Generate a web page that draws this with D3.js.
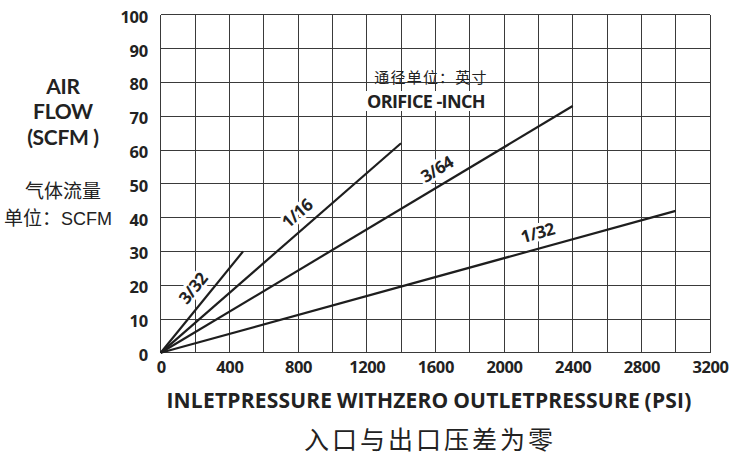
<!DOCTYPE html>
<html>
<head>
<meta charset="utf-8">
<script src="https://cdn.jsdelivr.net/npm/d3@7"></script>
<style>
  html, body { margin: 0; padding: 0; background: #fff; }
  svg { display: block; }
  text { font-family: "Open Sans", "Noto Sans", sans-serif; fill: #222; }
  .cjk { font-family: "Noto Sans CJK SC", sans-serif; }
</style>
</head>
<body>
<svg id="chart" width="730" height="455"></svg>
<script>
// Air flow (SCFM) vs inlet pressure (PSI) for each orifice size
const orifices = ["3/32", "1/16", "3/64", "1/32"];
const endPressure = [480, 1400, 2400, 3000];   // PSI at end of each line
const endFlow = [30, 62, 73, 42];              // SCFM at end of each line
const labelPos = [0.54, 0.61, 0.69, 0.74];     // fraction along line where label sits

const xTicks = [0, 400, 800, 1200, 1600, 2000, 2400, 2800, 3200];
const yTicks = [0, 10, 20, 30, 40, 50, 60, 70, 80, 90, 100];
const xGrid = d3.range(0, 3201, 200);

const svg = d3.select("#chart");
const x = d3.scaleLinear().domain([0, 3200]).range([160.7, 710]);
const y = d3.scaleLinear().domain([0, 100]).range([352.8, 14.8]);

// grid
const grid = svg.append("g").attr("stroke", "#3a3a3a").attr("stroke-width", 1).attr("shape-rendering", "crispEdges");
grid.selectAll(".vx").data(xGrid).join("line")
  .attr("x1", d => x(d)).attr("x2", d => x(d))
  .attr("y1", y(0)).attr("y2", y(100));
grid.selectAll(".hy").data(yTicks).join("line")
  .attr("x1", x(0)).attr("x2", x(3200))
  .attr("y1", d => y(d)).attr("y2", d => y(d));

// axes (labels only)
const yAxis = svg.append("g").attr("transform", `translate(${x(0) - 13},0)`)
  .call(d3.axisLeft(y).tickValues(yTicks).tickSize(0).tickPadding(0));
yAxis.select(".domain").remove();
yAxis.selectAll("text").attr("font-size", 16.5).attr("font-weight", 700)
  .attr("letter-spacing", -0.4).attr("dy", "0.45em")
  .style("font-family", "'Open Sans', sans-serif").attr("fill", "#222");

const xAxis = svg.append("g").attr("transform", `translate(0,${y(0) + 8})`)
  .call(d3.axisBottom(x).tickValues(xTicks).tickSize(0).tickPadding(0).tickFormat(d3.format("d")));
xAxis.select(".domain").remove();
xAxis.selectAll("text").attr("font-size", 16.5).attr("font-weight", 700)
  .attr("letter-spacing", -0.4).attr("dy", "0.75em")
  .style("font-family", "'Open Sans', sans-serif").attr("fill", "#222");

// orifice lines
const series = orifices.map((name, i) => ({
  name, pts: [[0, 0], [endPressure[i], endFlow[i]]], t: labelPos[i]
}));
const line = d3.line().x(d => x(d[0])).y(d => y(d[1]));
svg.append("g").selectAll("path").data(series).join("path")
  .attr("d", d => line(d.pts))
  .attr("fill", "none").attr("stroke", "#1e1e1e").attr("stroke-width", 2.2);

// line labels, rotated along each line and set off above it
svg.append("g").selectAll("text").data(series).join("text")
  .each(function (d) {
    const x0 = x(d.pts[0][0]), y0 = y(d.pts[0][1]);
    const x1 = x(d.pts[1][0]), y1 = y(d.pts[1][1]);
    const len = Math.hypot(x1 - x0, y1 - y0);
    const ux = (x1 - x0) / len, uy = (y1 - y0) / len;
    const off = 16;
    const cx = x0 + ux * len * d.t + uy * off;
    const cy = y0 + uy * len * d.t - ux * off;
    const ang = Math.atan2(y1 - y0, x1 - x0) * 180 / Math.PI;
    d3.select(this)
      .attr("transform", `translate(${cx},${cy}) rotate(${ang})`)
      .attr("text-anchor", "middle").attr("dominant-baseline", "central")
      .attr("font-size", 17).attr("font-weight", 700).attr("letter-spacing", -0.5)
      .attr("stroke", "#fff").attr("stroke-width", 6).attr("paint-order", "stroke")
      .attr("stroke-linejoin", "round")
      .text(d.name);
  });

// orifice legend heading
svg.append("text").attr("class", "cjk").attr("x", 431).attr("y", 83)
  .attr("text-anchor", "middle").attr("font-size", 15).attr("letter-spacing", 1.2)
  .text("通径单位：英寸");
svg.append("rect").attr("x", 360).attr("y", 91).attr("width", 134).attr("height", 20).attr("fill", "#fff");
svg.append("text").attr("x", 426).attr("y", 108)
  .attr("text-anchor", "middle").attr("font-size", 18).attr("font-weight", 700)
  .attr("letter-spacing", -0.6)
  .text("ORIFICE -INCH");

// y-axis title
const yt = svg.append("g").attr("text-anchor", "middle");
[["AIR", 94], ["FLOW", 119], ["(SCFM )", 145]].forEach(([t, yy]) => {
  yt.append("text").attr("x", 63).attr("y", yy).attr("font-size", 21)
    .style("font-family", "Lato, 'Open Sans', sans-serif")
    .attr("font-weight", 700).attr("letter-spacing", -0.3).text(t);
});
yt.append("text").attr("class", "cjk").attr("x", 63).attr("y", 198)
  .attr("font-size", 19).text("气体流量");
const unit = yt.append("text").attr("x", 58).attr("y", 225).attr("font-size", 19);
unit.append("tspan").attr("class", "cjk").text("单位：");
unit.append("tspan").style("font-family", "'Liberation Sans Narrow', 'Liberation Sans', sans-serif")
  .attr("font-size", 18).text("SCFM");

// x-axis title
svg.append("text").attr("x", 429).attr("y", 408)
  .attr("text-anchor", "middle").attr("font-size", 21).attr("font-weight", 700)
  .attr("letter-spacing", 0.2).attr("word-spacing", -1)
  .text("INLETPRESSURE WITHZERO  OUTLETPRESSURE (PSI)");
svg.append("text").attr("class", "cjk").attr("x", 430).attr("y", 449)
  .attr("text-anchor", "middle").attr("font-size", 25).attr("letter-spacing", 3)
  .text("入口与出口压差为零");
</script>
</body>
</html>
